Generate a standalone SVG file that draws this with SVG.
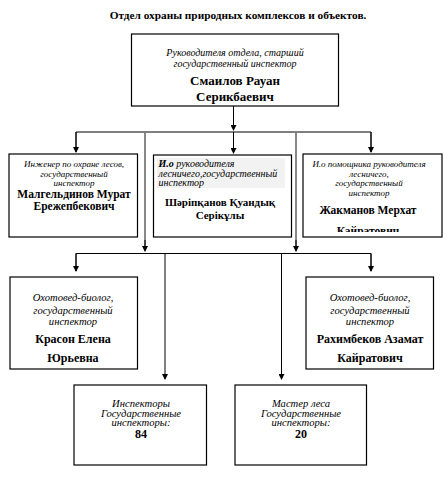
<svg xmlns="http://www.w3.org/2000/svg" width="448" height="479" viewBox="0 0 448 479">
<style>
.box{fill:#fff;stroke:#000;stroke-width:1.2}
.it{font-family:"Liberation Serif","Times New Roman","DejaVu Serif",serif;font-style:italic;font-size:10px;fill:#000;text-anchor:middle}
.s9{font-size:9px}
.s10{font-size:10.6px}
.itl{font-family:"Liberation Serif","Times New Roman","DejaVu Serif",serif;font-style:italic;font-size:10px;fill:#000;text-anchor:start}
.bd{font-family:"Liberation Serif","Times New Roman","DejaVu Serif",serif;font-weight:bold;font-size:11.5px;fill:#000;text-anchor:middle}
.b13{font-size:13px}
.b11{font-size:11px}
.b12{font-size:12px}
.ttl{font-family:"Liberation Serif","Times New Roman","DejaVu Serif",serif;font-weight:bold;font-size:11.3px;fill:#000;text-anchor:middle}
.ln{fill:none;stroke:#000;stroke-width:1}
.gl{fill:none;stroke:#888;stroke-width:2}
</style>
<defs>
<marker id="ah" markerWidth="6" markerHeight="6" refX="5" refY="3" orient="auto" markerUnits="userSpaceOnUse">
<path d="M0,0 L6,3 L0,6 Z" fill="#000"/>
</marker>
<clipPath id="cr"><rect x="303" y="154" width="139" height="78"/></clipPath>
</defs>
<rect width="448" height="479" fill="#fff"/>
<text class="ttl" x="238" y="19">Отдел охраны природных комплексов и объектов.</text>
<g id="connectors">
<path class="ln" d="M233.5,106 V130" marker-end="url(#ah)"/>
<path class="ln" d="M76,152 V132 H371 V152"/>
<path class="ln" d="M76,132 V152" marker-end="url(#ah)"/>
<path class="ln" d="M371,132 V152" marker-end="url(#ah)"/>
<path class="ln" d="M233.5,132 V153" marker-end="url(#ah)"/>
<path class="gl" d="M145,133 V246"/>
<path class="gl" d="M296,133 V246"/>
<path class="ln" d="M145,240 V251" marker-end="url(#ah)"/>
<path class="ln" d="M296,240 V251" marker-end="url(#ah)"/>
<path class="ln" d="M76,271 V253.5 H371 V271"/>
<path class="ln" d="M76,253.5 V271" marker-end="url(#ah)"/>
<path class="ln" d="M371,253.5 V271" marker-end="url(#ah)"/>
<path class="ln" d="M165,253.5 V379" marker-end="url(#ah)"/>
<path class="ln" d="M281.5,253.5 V379" marker-end="url(#ah)"/>
</g>
<g id="head">
<rect class="box" x="131.5" y="34" width="207" height="72"/>
<text class="it" x="235" y="56">Руководителя отдела, старший</text>
<text class="it" x="235" y="67">государственный инспектор</text>
<text class="bd b13" x="235" y="84.5">Смаилов Рауан</text>
<text class="bd b13" x="235" y="100.5">Серикбаевич</text>
</g>
<g id="engineer">
<rect class="box" x="9" y="154" width="128.5" height="83"/>
<text class="it s9" x="74" y="166.5">Инженер по охране лесов,</text>
<text class="it s9" x="74" y="176.5">государственный</text>
<text class="it s9" x="74" y="186">инспектор</text>
<text class="bd" x="74" y="197.5">Малгельдинов Мурат</text>
<text class="bd" x="74" y="210">Ережепбекович</text>
</g>
<g id="deputy">
<rect class="box" x="153.5" y="155" width="138" height="82" stroke-width="1.8"/>
<rect x="157" y="158" width="128" height="30" fill="#f2f2f2"/>
<text class="itl" x="158.5" y="167"><tspan font-weight="bold">И.о</tspan> руководителя</text>
<text class="itl" x="158.5" y="176.5">лесничего,государственный</text>
<text class="itl" x="158.5" y="186">инспектор</text>
<text class="bd b11" x="220" y="205.5">Шәріпқанов Қуандық</text>
<text class="bd b11" x="220" y="218.5">Серікұлы</text>
</g>
<g id="assistant">
<rect class="box" x="303" y="154" width="139" height="83"/>
<text class="it s9" x="369" y="167">И.о помощника руководителя</text>
<text class="it s9" x="369" y="176.5">лесничего,</text>
<text class="it s9" x="369" y="186">государственный</text>
<text class="it s9" x="369" y="196">инспектор</text>
<g clip-path="url(#cr)">
<text class="bd" x="368" y="214">Жакманов Мерхат</text>
<text class="bd" x="368" y="235">Кайратович</text>
</g>
</g>
<g id="biolog1">
<rect class="box" x="10" y="277" width="127.5" height="92"/>
<text class="it s10" x="73" y="300.5">Охотовед-биолог,</text>
<text class="it s10" x="73" y="313.5">государственный</text>
<text class="it s10" x="73" y="325">инспектор</text>
<text class="bd b12" x="73" y="342.5">Красон Елена</text>
<text class="bd b12" x="73" y="361.5">Юрьевна</text>
</g>
<g id="biolog2">
<rect class="box" x="306" y="277" width="127.5" height="92"/>
<text class="it s10" x="370" y="300.5">Охотовед-биолог,</text>
<text class="it s10" x="370" y="313.5">государственный</text>
<text class="it s10" x="370" y="325">инспектор</text>
<text class="bd b12" x="370" y="342.5">Рахимбеков Азамат</text>
<text class="bd b12" x="370" y="361.5">Кайратович</text>
</g>
<g id="inspectors">
<rect class="box" x="74" y="385" width="132.5" height="80"/>
<text class="it s10" x="141" y="406.5">Инспекторы</text>
<text class="it s10" x="141" y="416.5">Государственные</text>
<text class="it s10" x="141" y="426">инспекторы:</text>
<text class="bd b12" x="141" y="437.5">84</text>
</g>
<g id="masters">
<rect class="box" x="235" y="385" width="131.5" height="80"/>
<text class="it s10" x="301" y="406.5">Мастер леса</text>
<text class="it s10" x="301" y="416.5">Государственные</text>
<text class="it s10" x="301" y="426">инспекторы:</text>
<text class="bd b12" x="301" y="437.5">20</text>
</g>
</svg>
